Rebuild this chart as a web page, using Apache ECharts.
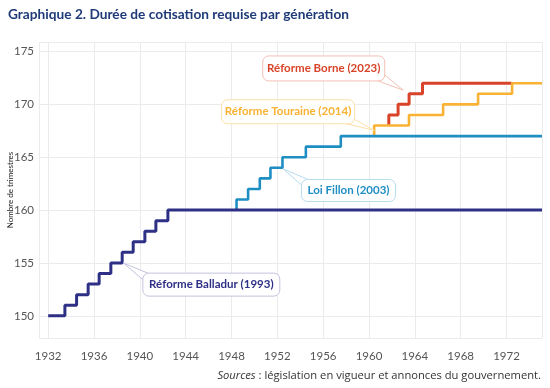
<!DOCTYPE html>
<html><head><meta charset="utf-8">
<script src="https://cdn.jsdelivr.net/npm/echarts@6/dist/echarts.min.js"></script>
<style>html,body{margin:0;padding:0;background:#fff}#c{width:550px;height:388px}</style>
</head><body><div id="c"></div>
<script>
// ---- data ----
const balladurYears  = [1932, 1933.46, 1934.48, 1935.49, 1936.45, 1937.47, 1938.46, 1939.42, 1940.44, 1941.4, 1942.45, 1975.1];
const balladurValues = [150, 151, 152, 153, 154, 155, 156, 157, 158, 159, 160, 160];
const fillonYears    = [1948.44, 1948.44, 1949.45, 1950.47, 1951.4, 1952.45, 1954.49, 1957.54, 1975.1];
const fillonValues   = [160, 161, 162, 163, 164, 165, 166, 167, 167];
const tourainYears   = [1960.45, 1960.45, 1963.49, 1966.47, 1969.52, 1972.49, 1975.1];
const tourainValues  = [167, 168, 169, 170, 171, 172, 172];
const borneYears     = [1961.73, 1961.73, 1962.54, 1963.5, 1964.67, 1972.44];
const borneValues    = [168, 169, 170, 171, 172, 172];
const seriesNames    = ['Réforme Borne (2023)', 'Réforme Touraine (2014)', 'Loi Fillon (2003)', 'Réforme Balladur (1993)'];

const pair = (xs, ys) => xs.map((x, i) => [x, ys[i]]);

const C = {
  borne: '#d8432a', touraine: '#f9b233', fillon: '#1f8ec3', balladur: '#2e3086',
  grid: '#ebebeb', label: '#555555'
};

const chart = echarts.init(document.getElementById('c'), null, {renderer: 'canvas'});

const lineSeries = (name, data, color, width) => ({
  type: 'line', name, data, step: 'end', showSymbol: false, symbol: 'none',
  lineStyle: {color, width}, itemStyle: {color}, animation: false, silent: true
});

chart.setOption({
  animation: false,
  backgroundColor: '#ffffff',
  title: [
    {text: 'Graphique 2. Durée de cotisation requise par génération', left: 8, top: 8, padding: 0,
     textStyle: {fontFamily: 'Lato', fontWeight: 'bold', fontSize: 13.7, color: '#1f3b78'}},
    {text: '{i|Sources} : législation en vigueur et annonces du gouvernement.', right: 9, top: 370, padding: 0,
     textStyle: {fontFamily: 'Open Sans', fontSize: 11.2, fontWeight: 'normal', color: '#333',
       rich: {i: {fontFamily: 'Open Sans', fontSize: 11.2, fontWeight: 'normal', fontStyle: 'italic', color: '#333'}}}}
  ],
  grid: {left: 39, right: 8, top: 42, bottom: 50, containLabel: false, outerBoundsMode: 'none'},
  xAxis: {
    type: 'value', min: 1931.2, max: 1975.1, minInterval: 4, maxInterval: 4,
    axisLine: {show: false}, axisTick: {show: false},
    axisLabel: {showMinLabel: false, showMaxLabel: false, margin: 12, color: C.label, fontFamily: 'Lato', fontSize: 11.5,
      formatter: v => String(Math.round(v))},
    splitLine: {show: true, lineStyle: {color: C.grid, width: 1}}
  },
  yAxis: {
    type: 'value', min: 147.9, max: 175.9, minInterval: 5, maxInterval: 5,
    name: 'Nombre de trimestres', nameLocation: 'middle', nameGap: 25, nameMoveOverlap: false,
    nameTextStyle: {fontFamily: 'Lato', fontSize: 8, color: '#222'},
    axisLine: {show: false}, axisTick: {show: false},
    axisLabel: {showMinLabel: false, showMaxLabel: false, margin: 5, color: C.label, fontFamily: 'Lato', fontSize: 11.5,
      formatter: v => String(Math.round(v))},
    splitLine: {show: true, lineStyle: {color: C.grid, width: 1}}
  },
  series: [
    lineSeries(seriesNames[0], pair(borneYears, borneValues), C.borne, 3),
    lineSeries(seriesNames[1], pair(tourainYears, tourainValues), C.touraine, 2.6),
    lineSeries(seriesNames[2], pair(fillonYears, fillonValues), C.fillon, 2.6),
    lineSeries(seriesNames[3], pair(balladurYears, balladurValues), C.balladur, 3)
  ]
});

// ---- annotation callouts (anchored in data coordinates) ----
const notes = [
  {text: seriesNames[0], color: C.borne,    border: '#f3c0b5', center: [1956.05, 173.4], tip: [1962.98, 171.35], w: 122, h: 25, b1: [50, 11], b2: [58, 4]},
  {text: seriesNames[1], color: C.touraine, border: '#fde0a8', center: [1952.94, 169.3], tip: [1960.45, 167.55], w: 133, h: 24, b1: [60, 4],  b2: [54, 11]},
  {text: seriesNames[2], color: C.fillon,   border: '#b8dcef', center: [1958.21, 161.85], tip: [1952.5, 163.9], w: 94, h: 22, b1: [-44, -3], b2: [-38, -10]},
  {text: seriesNames[3], color: C.balladur, border: '#c3c3df', center: [1946.24, 152.95], tip: [1938.55, 155.0], w: 137, h: 23, b1: [-66, -3], b2: [-60, -10]}
];

const g = [];
notes.forEach(n => {
  const c = chart.convertToPixel({gridIndex: 0}, n.center);
  const t = chart.convertToPixel({gridIndex: 0}, n.tip);
  g.push({type: 'polygon', z: 100, silent: true,
    shape: {points: [t, [c[0] + n.b1[0], c[1] + n.b1[1]], [c[0] + n.b2[0], c[1] + n.b2[1]]]},
    style: {fill: '#ffffff', stroke: n.border, lineWidth: 1}});
  g.push({type: 'rect', z: 101, silent: true,
    shape: {x: c[0] - n.w / 2, y: c[1] - n.h / 2, width: n.w, height: n.h, r: 6},
    style: {fill: '#ffffff', stroke: n.border, lineWidth: 1}});
  g.push({type: 'text', z: 102, silent: true, x: c[0], y: c[1],
    style: {text: n.text, fill: n.color, font: 'bold 11.5px Lato', align: 'center', verticalAlign: 'middle'}});
});
chart.setOption({graphic: g});
</script>
</body></html>
